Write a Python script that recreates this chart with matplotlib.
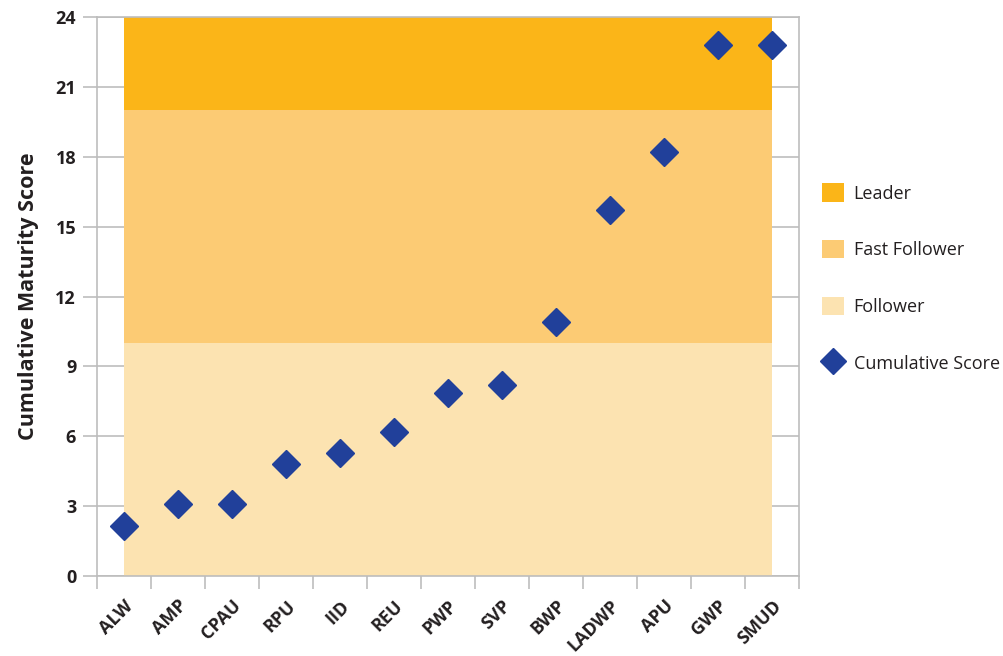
import matplotlib
matplotlib.use("Agg")
import matplotlib.pyplot as plt
from matplotlib.patches import Patch
from matplotlib.lines import Line2D
import numpy as np

plt.rcParams['font.family'] = ['Open Sans', 'DejaVu Sans']

categories = ["ALW", "AMP", "CPAU", "RPU", "IID", "REU", "PWP", "SVP", "BWP", "LADWP", "APU", "GWP", "SMUD"]
scores = [2.15, 3.1, 3.1, 4.8, 5.3, 6.2, 7.85, 8.2, 10.9, 15.7, 18.2, 22.8, 22.8]
follower_band = [10, 10, 10, 10, 10, 10, 10, 10, 10, 10, 10, 10, 10]
fast_follower_band = [10, 10, 10, 10, 10, 10, 10, 10, 10, 10, 10, 10, 10]
leader_band = [4, 4, 4, 4, 4, 4, 4, 4, 4, 4, 4, 4, 4]
yticks = [0, 3, 6, 9, 12, 15, 18, 21, 24]

c_leader = "#FBB518"
c_fast = "#FCCB74"
c_follow = "#FCE3B1"
c_marker = "#21409A"
grid_c = "#BDBDBD"
txt_c = "#231F20"

fig = plt.figure(figsize=(10.04, 6.56), dpi=100)
ax = fig.add_axes([97/1004, 1-576/656, 702/1004, 559/656])

x = np.arange(len(categories))
ax.stackplot(x, follower_band, fast_follower_band, leader_band,
             colors=[c_follow, c_fast, c_leader], zorder=2)
ax.plot(x, scores, linestyle='none', marker='D', markersize=14,
        color=c_marker, zorder=3)

ax.set_xlim(-0.5, len(categories) - 0.5)
ax.set_ylim(0, 24)
ax.set_yticks(yticks)
ax.set_yticklabels([str(v) for v in yticks], fontsize=13, fontweight='bold', color=txt_c)
ax.yaxis.grid(True, color=grid_c, linewidth=1.2, zorder=0)
ax.set_axisbelow(True)

ax.set_xticks(x)
ax.set_xticklabels(categories, rotation=45, ha='right', rotation_mode='anchor',
                   fontsize=13, fontweight='bold', color=txt_c)
ax.set_xticks(np.arange(-0.5, len(categories)), minor=True)
ax.tick_params(axis='x', which='major', length=0, pad=15)
ax.tick_params(axis='x', which='minor', length=9, width=1.2, color=grid_c)
ax.tick_params(axis='y', length=10, width=1.2, color=grid_c, pad=5)

for s in ax.spines.values():
    s.set_color(grid_c)
    s.set_linewidth(1.2)

ax.set_ylabel("Cumulative Maturity Score", fontsize=15.5, fontweight='bold',
              color=txt_c, labelpad=12)

handles = [Patch(facecolor=c_leader, label="Leader"),
           Patch(facecolor=c_fast, label="Fast Follower"),
           Patch(facecolor=c_follow, label="Follower"),
           Line2D([], [], linestyle='none', marker='D', markersize=13,
                  color=c_marker, label="Cumulative Score")]
fig.legend(handles=handles, loc='center left', bbox_to_anchor=(822/1004, 1-278/656),
           frameon=False, fontsize=13, labelspacing=2.07, handlelength=1.2,
           handleheight=1.2, handletextpad=0.55, labelcolor=txt_c,
           borderaxespad=0, borderpad=0)

fig.savefig("out.png", dpi=100)
